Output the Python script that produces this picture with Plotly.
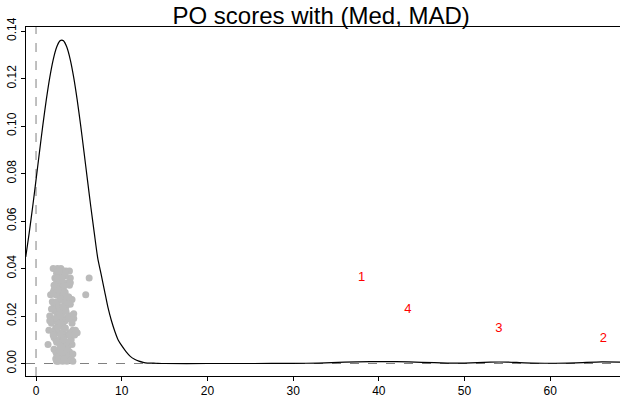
import plotly.graph_objects as go

# Density curve
dens_x = [-1.2, -0.8, -0.4, 0.0, 0.4, 0.8, 1.2, 1.6, 2.0, 2.4, 2.8, 3.0, 3.2, 3.6, 4.0,
          4.4, 4.8, 5.2, 5.6, 6.0, 6.4, 6.8, 7.2, 7.6, 8.0, 8.4, 8.8, 9.2, 9.6, 10.0,
          10.5, 11.0, 11.5, 12.0, 12.5, 13.0, 14.0, 15.0, 20.0, 25.0, 30.0, 33.0, 36.0,
          39.0, 42.0, 45.0, 48.0, 50.0, 53.0, 55.0, 57.0, 60.0, 63.0, 66.0, 68.5]
dens_y = [0.0449, 0.0549, 0.0658, 0.0773, 0.0890, 0.1005, 0.1111, 0.1204, 0.1279, 0.1332,
          0.1359, 0.1362, 0.1359, 0.1332, 0.1279, 0.1204, 0.1111, 0.1005, 0.0890, 0.0773,
          0.0658, 0.0549, 0.0444, 0.0375, 0.0305, 0.0235, 0.0180, 0.0135, 0.0098, 0.0075,
          0.0050, 0.0030, 0.0018, 0.0010, 0.0005, 0.0002, 0.0001, 0.0, 0.0, 0.0, 0.00005,
          0.0002, 0.0006, 0.0008, 0.0008, 0.0005, 0.0002, 0.0002, 0.0006, 0.0006, 0.0003,
          0.0001, 0.0003, 0.0007, 0.0006]

# Jittered scores (gray points)
pts_x = [2.1, 3.4, 2.8, 3.9, 2.5, 3.1, 4.2, 2.9, 3.6, 2.3,
         3.0, 2.7, 3.8, 2.2, 3.3, 4.0, 2.6, 3.5, 2.9, 3.2,
         1.9, 3.7, 2.4, 3.0, 4.3, 2.8, 3.4, 2.1, 3.6, 2.7,
         3.1, 2.5, 3.9, 2.3, 3.2, 4.1, 2.6, 3.5, 2.0, 3.3,
         2.9, 3.8, 2.4, 3.0, 4.4, 2.8, 3.6, 2.2, 3.1, 2.7,
         3.4, 1.6, 3.7, 2.5, 3.2, 4.0, 2.9, 3.5, 2.3, 3.0,
         2.6, 3.9, 2.1, 3.3, 4.2, 2.8, 3.4, 2.4, 3.1, 2.7,
         3.6, 1.8, 3.8, 2.5, 3.0, 4.1, 2.9, 3.2, 2.2, 3.5,
         2.6, 3.7, 2.0, 3.3, 4.3, 2.8, 3.1, 2.4, 3.6, 2.7,
         3.4, 1.5, 3.9, 2.3, 3.0, 4.0, 2.9, 3.5, 2.1, 3.2,
         2.6, 3.8, 2.5, 3.1, 4.5, 2.8, 3.3, 2.2, 3.7, 2.7,
         3.0, 1.7, 3.6, 2.4, 3.2, 4.2, 2.9, 3.4, 2.0, 3.1,
         2.6, 3.9, 2.3, 3.5, 4.1, 2.8, 3.0, 2.5, 3.3, 2.7,
         2.4, 3.3, 1.4, 3.8, 2.9, 4.6, 2.2, 3.1, 2.7, 3.5,
         3.2, 2.5, 4.4, 2.0, 3.7, 2.8, 3.0, 4.8, 2.3, 3.4,
         2.9, 1.8, 3.6, 2.6, 3.1, 4.0, 2.4, 3.3, 2.8, 3.9,
         3.5, 2.1, 3.0, 4.3, 2.7, 3.2, 1.6, 3.8, 2.5, 3.4,
         5.8, 6.2]
pts_y = [0.031, 0.012, 0.038, 0.005, 0.022, 0.017, 0.027, 0.002, 0.034, 0.015,
         0.009, 0.029, 0.020, 0.036, 0.004, 0.025, 0.013, 0.039, 0.018, 0.032,
         0.026, 0.008, 0.001, 0.023, 0.014, 0.035, 0.030, 0.011, 0.019, 0.006,
         0.037, 0.021, 0.033, 0.010, 0.028, 0.003, 0.016, 0.024, 0.040, 0.007,
         0.013, 0.027, 0.035, 0.002, 0.019, 0.031, 0.009, 0.022, 0.038, 0.016,
         0.025, 0.020, 0.004, 0.033, 0.012, 0.036, 0.029, 0.006, 0.018, 0.030,
         0.001, 0.039, 0.024, 0.015, 0.008, 0.021, 0.037, 0.026, 0.011, 0.034,
         0.003, 0.017, 0.028, 0.040, 0.023, 0.010, 0.032, 0.005, 0.014, 0.019,
         0.036, 0.007, 0.030, 0.022, 0.001, 0.027, 0.013, 0.038, 0.025, 0.009,
         0.018, 0.014, 0.034, 0.002, 0.031, 0.020, 0.011, 0.028, 0.006, 0.037,
         0.024, 0.003, 0.039, 0.016, 0.012, 0.008, 0.033, 0.019, 0.026, 0.035,
         0.021, 0.029, 0.006, 0.030, 0.010, 0.017, 0.040, 0.015, 0.023, 0.001,
         0.032, 0.013, 0.005, 0.027, 0.020, 0.009, 0.036, 0.034, 0.018, 0.024,
         0.004, 0.011, 0.008, 0.019, 0.027, 0.014, 0.033, 0.037, 0.003, 0.022,
         0.039, 0.015, 0.021, 0.012, 0.026, 0.005, 0.035, 0.013, 0.029, 0.038,
         0.017, 0.023, 0.001, 0.031, 0.024, 0.034, 0.009, 0.002, 0.020, 0.012,
         0.026, 0.033, 0.007, 0.004, 0.039, 0.010, 0.018, 0.028, 0.036, 0.015,
         0.029, 0.036]

# Outlier labels
out_labels = ["1", "2", "3", "4"]
out_x = [38.0, 66.2, 54.0, 43.4]
out_y = [0.036, 0.0103, 0.0145, 0.0225]

x_ticks = [0, 10, 20, 30, 40, 50, 60]
y_ticks = [0.00, 0.02, 0.04, 0.06, 0.08, 0.10, 0.12, 0.14]

FONT = "Liberation Sans, Arial, Helvetica, sans-serif"

fig = go.Figure()
fig.add_trace(go.Scatter(x=pts_x, y=pts_y, mode="markers",
                         marker=dict(color="#BBBBBB", size=7, line=dict(width=0)),
                         showlegend=False, hoverinfo="skip"))
fig.add_trace(go.Scatter(x=dens_x, y=dens_y, mode="lines",
                         line=dict(color="black", width=1.2, shape="spline", smoothing=0.6),
                         showlegend=False, hoverinfo="skip"))
fig.add_trace(go.Scatter(x=out_x, y=out_y, mode="text", text=out_labels,
                         textfont=dict(color="red", size=13, family=FONT),
                         showlegend=False, hoverinfo="skip"))

fig.add_shape(type="line", xref="x", yref="paper", x0=0, x1=0, y0=0, y1=1,
              line=dict(color="#808080", width=1, dash="dash"), layer="below")
fig.add_shape(type="line", xref="paper", yref="y", x0=0, x1=1, y0=0, y1=0,
              line=dict(color="#808080", width=1, dash="dash"), layer="below")

fig.update_layout(
    width=620, height=398,
    margin=dict(l=26, r=0, t=27, b=22),
    paper_bgcolor="white", plot_bgcolor="white",
    font=dict(family=FONT, color="black", size=12),
    title=dict(text="PO scores with (Med, MAD)", x=0.518, xanchor="center",
               yref="container", y=1 - 15.5 / 398, yanchor="middle",
               font=dict(size=24, family=FONT)),
    xaxis=dict(range=[-1.17, 68.14], tickvals=x_ticks, ticks="outside", ticklen=4,
               tickcolor="black", showline=True, linecolor="black", linewidth=1,
               mirror=True, showgrid=False, zeroline=False, tickfont=dict(size=12)),
    yaxis=dict(range=[-0.00526, 0.1417], tickvals=y_ticks, tickformat=".2f",
               ticks="outside", ticklen=4, tickcolor="black", showline=True,
               linecolor="black", linewidth=1, showgrid=False, zeroline=False,
               tickangle=-90, tickfont=dict(size=12)),
)

fig.write_html("out.html")
